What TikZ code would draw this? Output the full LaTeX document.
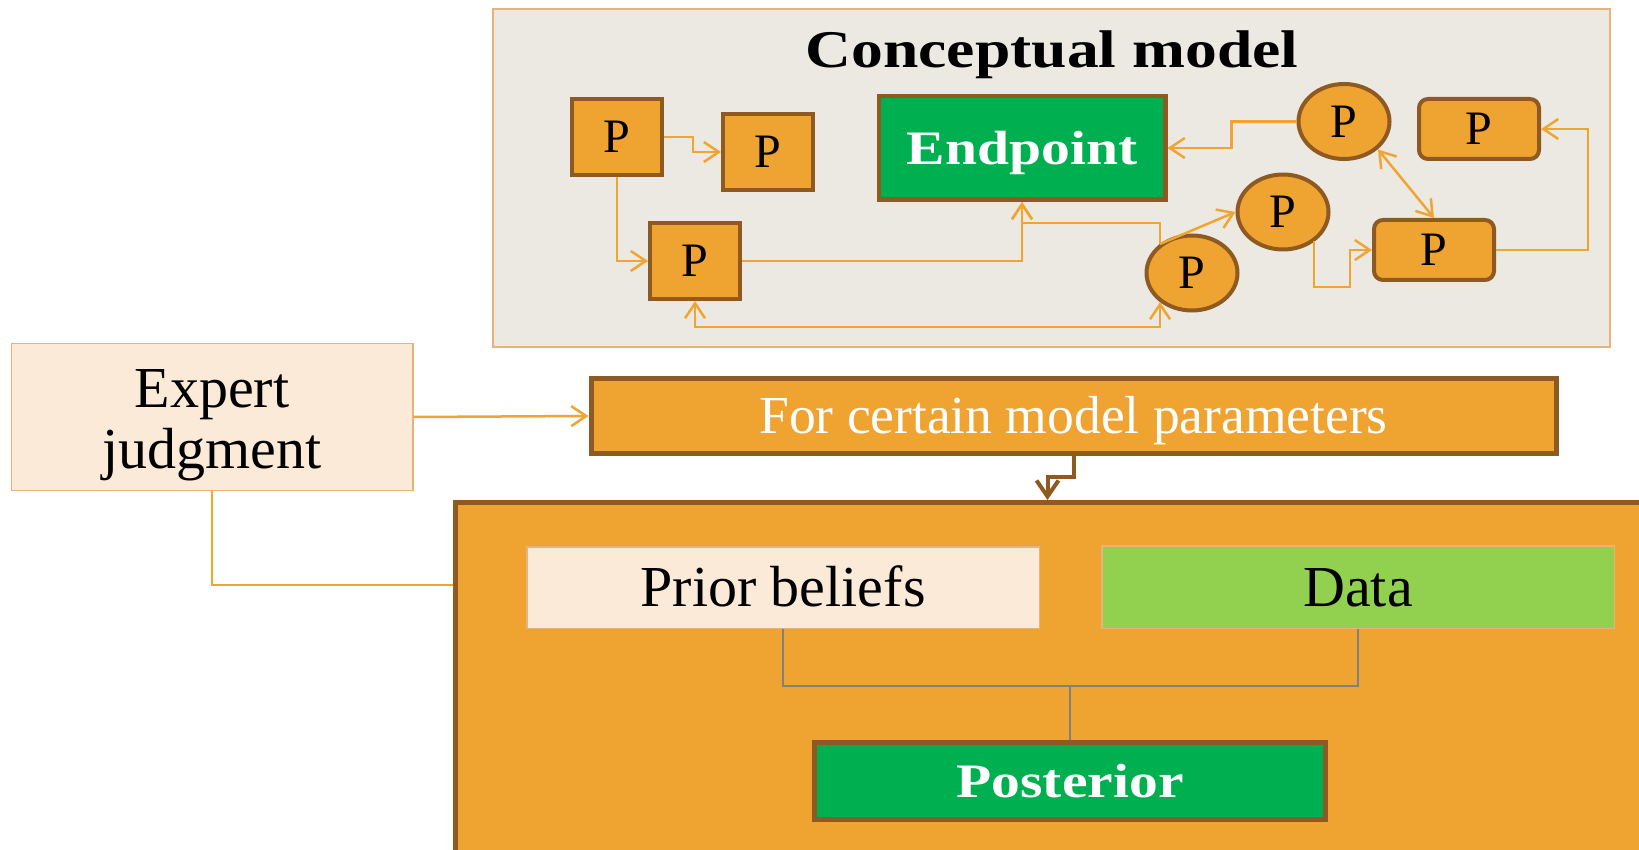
\documentclass[tikz,border=0pt]{standalone}
\usepackage{fontspec}
\setmainfont{Liberation Serif}
\newfontfamily\bw[FakeStretch=1.2]{Liberation Serif}
\usetikzlibrary{shapes.geometric,arrows.meta,calc}
\definecolor{orfill}{RGB}{239,163,48}
\definecolor{brn}{RGB}{143,90,34}
\definecolor{cmfill}{RGB}{236,233,226}
\definecolor{cmline}{RGB}{233,178,122}
\definecolor{peach}{RGB}{251,234,215}
\definecolor{grn}{RGB}{0,176,80}
\definecolor{lgrn}{RGB}{146,208,80}
\definecolor{oline}{RGB}{240,165,50}
\definecolor{gline}{RGB}{128,128,128}
\tikzset{
  pbox/.style={draw=brn, fill=orfill, line width=4pt, inner sep=0pt,
    minimum width=90pt, minimum height=76pt,
    font=\fontsize{48}{48}\selectfont, text height=31.8pt, text depth=0pt},
  pell/.style={pbox, ellipse, minimum width=91pt, minimum height=75pt},
  prnd/.style={pbox, rounded corners=9pt, minimum width=120pt, minimum height=60pt},
  endbox/.style={draw=brn, fill=grn, line width=4.5pt, inner sep=0pt,
    minimum width=286.5pt, minimum height=103.5pt, text=white,
    font=\bw\bfseries\fontsize{48}{48}\selectfont, text height=32.4pt, text depth=0pt},
  oarrow/.style={draw=oline, line width=2.5pt, -{Straight Barb[length=15pt,width=20pt]}},
  oarrowb/.style={draw=oline, line width=2.5pt, {Straight Barb[length=15pt,width=20pt]}-{Straight Barb[length=15pt,width=20pt]}},
  oplain/.style={draw=oline, line width=2.5pt},
  barrow/.style={draw=brn, line width=4pt, -{Straight Barb[length=16pt,width=22pt]}},
  gplain/.style={draw=gline, line width=2pt},
  lightbox/.style={draw=cmline, line width=1.5pt, inner sep=0pt,
    font=\fontsize{58}{58}\selectfont, text height=38.4pt, text depth=0pt},
  heavybox/.style={draw=brn, line width=5pt, inner sep=0pt, text=white, text depth=0pt},
}
\begin{document}
\begin{tikzpicture}[x=1pt,y=-1pt]
\useasboundingbox (0,0) rectangle (1639,850);
\clip (0,0) rectangle (1639,850);
\fill[white] (0,0) rectangle (1639,850);

% Conceptual model panel
\node[draw=cmline, fill=cmfill, line width=2pt, minimum width=1117pt, minimum height=338pt, inner sep=0pt] (cm) at (1051.5,178) {};
\node[inner sep=0pt, font=\bw\bfseries\fontsize{53}{53}\selectfont, text height=35.8pt, text depth=0pt] (title) at (1052,50) {Conceptual model};

\node[pbox] (P1) at (617,137) {P};
\node[pbox] (P2) at (768,152) {P};
\node[pbox] (P3) at (695,261) {P};
\node[endbox] (End) at (1022,148) {Endpoint};
\node[pell] (P4) at (1192,273) {P};
\node[pell] (P5) at (1283,212) {P};
\node[pell] (P6) at (1344,121.5) {P};
\node[prnd] (P7) at (1479,129) {P};
\node[prnd] (P8) at (1434,250) {P};

\coordinate (p4a) at ($(P4.center)+(-32,-29)$);
\coordinate (p4b) at ($(P4.center)+(-32,29)$);
\coordinate (p5a) at ($(P5.center)+(31,29)$);
\coordinate (p6a) at ($(P6.center)+(34,28)$);

\draw[oarrow] (P1.east) -- ++(29,0) |- (P2.west);
\draw[oarrow] (P1.south) |- (P3.west);
\draw[oarrow] (P3.east) -| (End.south);
\draw[oarrow] (p4a) |- ($(End.south)+(0,21)$) -- (End.south);
\draw[oarrow] (p4a) -- (P5.west);
\draw[oarrow] (p5a) |- ($(P8.west)+(-22,37)$) |- (P8.west);
\draw[oarrowb] (p6a) -- (P8.north);
\draw[oarrow] (P8.east) -- ++(92,0) |- (P7.east);
\draw[oarrow] (P6.west) -- ++(-65,0) |- (End.east);
\draw[oarrowb] (P3.south) -- ++(0,26) -| (p4b);

% Lower part
\node[lightbox, fill=peach, minimum width=401.5pt, minimum height=146.5pt] (ej) at (212,417) {};
\node[inner sep=0pt, anchor=north, align=center, font=\fontsize{58}{61}\selectfont] (ejt) at (212,369) {Expert\\judgment};
\node[heavybox, fill=orfill, minimum width=965pt, minimum height=75pt, font=\fontsize{53.5}{53.5}\selectfont, text height=35.4pt] (fc) at (1073.5,416) {For certain model parameters};
\node[draw=brn, fill=orfill, line width=5pt, inner sep=0pt, minimum width=1300pt, minimum height=500pt] (bb) at (1105.5,752.5) {};
\node[lightbox, fill=peach, minimum width=512.5pt, minimum height=81.5pt] (prior) at (783,587.5) {Prior beliefs};
\node[lightbox, fill=lgrn, minimum width=512.5pt, minimum height=82.5pt] (data) at (1358,587) {Data};
\node[heavybox, fill=grn, minimum width=511pt, minimum height=77pt, font=\bw\bfseries\fontsize{48}{48}\selectfont, text height=32.4pt] (post) at (1070,781) {Posterior};

\draw[oarrow] (ej.east) -- (fc.west);
\draw[oplain] (ej.south) |- ($(bb.north west)+(0,85)$);
\draw[barrow] (fc.south) |- ($(bb.north)+(-58,-23)$) -- ($(bb.north)+(-58,0)$);

\coordinate (jn) at ($(prior.south)+(0,57)$);
\draw[gplain] (prior.south) -- (jn) -| (data.south);
\draw[gplain] (post.north) -- (post.north |- jn);
\end{tikzpicture}
\end{document}
